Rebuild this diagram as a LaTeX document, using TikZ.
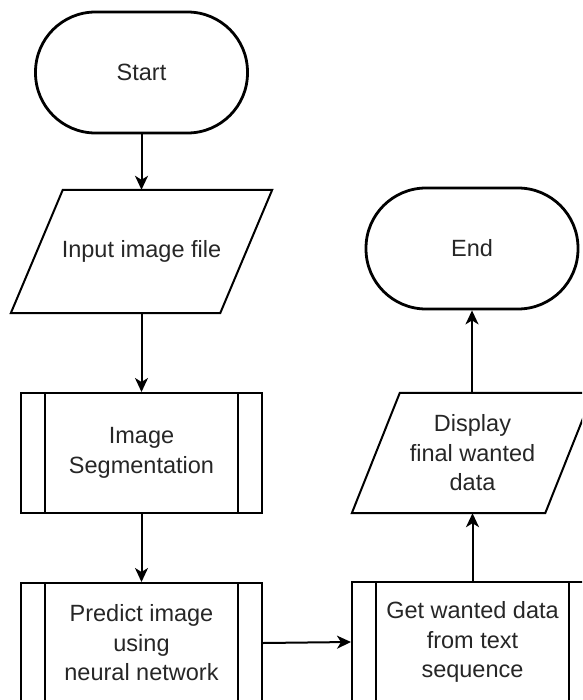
\documentclass[tikz,border=0pt]{standalone}
\usepackage{fontspec}
\setmainfont{Liberation Sans}
\usetikzlibrary{arrows.meta,calc}

\tikzset{
  x=1pt, y=-1pt,
  label text/.style={align=center, text=black!85,
    font=\fontsize{23.5}{29.5}\selectfont},
  terminator/.style={label text, draw, line width=2.8pt, rectangle,
    rounded corners=60pt, minimum width=212pt, minimum height=121pt,
    inner sep=0pt},
  subproc/.style={label text, draw, line width=2pt, rectangle,
    minimum width=241pt, minimum height=120pt, inner sep=0pt,
    path picture={
      \draw[line width=2pt]
        ([xshift=24pt]path picture bounding box.north west) --
        ([xshift=24pt]path picture bounding box.south west)
        ([xshift=-24pt]path picture bounding box.north east) --
        ([xshift=-24pt]path picture bounding box.south east);
    }},
  iobox/.style={label text, rectangle, inner sep=0pt},
  ioline/.style={line width=2pt, line join=miter},
  flow/.style={line width=2pt,
    -{Stealth[length=14pt, width=13pt, inset=4pt]}}
}

\begin{document}
\begin{tikzpicture}
  \useasboundingbox (0,0) rectangle (582,700);
  \clip (0,0) rectangle (582,700);

  % left column
  \node[terminator] (start) at (141.5,72.5) {Start};
  \node[iobox, minimum width=261pt, minimum height=123pt]
    (input) at (141.5,251.5) {Input image file};
  \draw[ioline] ([xshift=52pt]input.north west) -- (input.north east)
    -- ([xshift=-52pt]input.south east) -- (input.south west) -- cycle;
  \node[subproc] (seg) at (141.5,453) {Image\\Segmentation};
  \node[subproc] (pred) at (141.5,643) {Predict image\\using\\neural network};

  % right column
  \node[subproc] (get) at (472.5,642) {Get wanted data\\from text\\sequence};
  \node[iobox, minimum width=241pt, minimum height=120pt]
    (disp) at (472.5,453) {Display\\final wanted\\data};
  \draw[ioline] ([xshift=48pt]disp.north west) -- (disp.north east)
    -- ([xshift=-48pt]disp.south east) -- (disp.south west) -- cycle;
  \node[terminator] (end) at (472,248.5) {End};

  % connectors
  \draw[flow] (start) -- (input);
  \draw[flow] (input) -- (seg);
  \draw[flow] (seg) -- (pred);
  \draw[flow] (pred.east) -- (get.west);
  \draw[flow] (get) -- (disp);
  \draw[flow] (disp.north -| end.south) -- (end);
\end{tikzpicture}
\end{document}
